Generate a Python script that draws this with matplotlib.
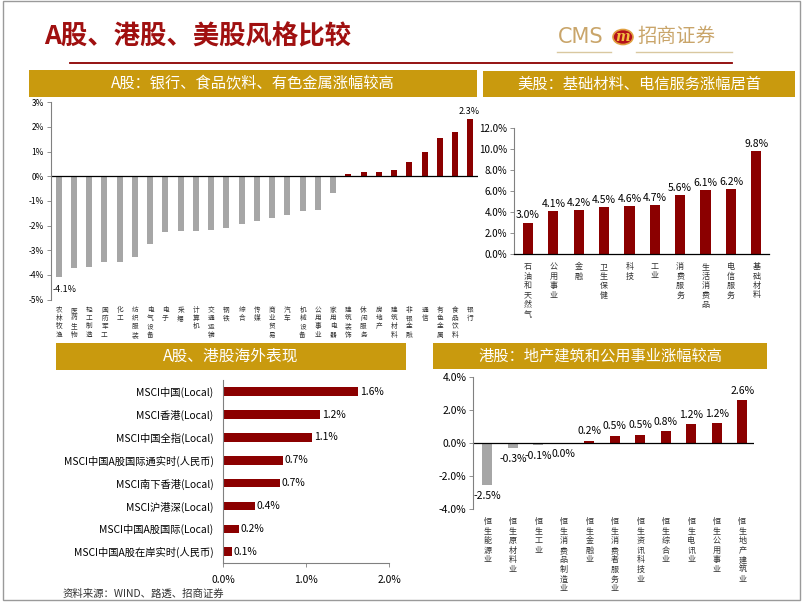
import matplotlib
matplotlib.use("Agg")
import matplotlib.pyplot as plt
from matplotlib.patches import Rectangle, Circle
from matplotlib.ticker import FuncFormatter, MultipleLocator
from matplotlib.transforms import blended_transform_factory

plt.rcParams['font.family'] = ['Noto Sans CJK SC', 'DejaVu Sans']
plt.rcParams['axes.unicode_minus'] = False

# ---------------- data ----------------
a_cats = ["农林牧渔", "医药生物", "轻工制造", "国防军工", "化工", "纺织服装", "电气设备",
          "电子", "采掘", "计算机", "交通运输", "钢铁", "综合", "传媒", "商业贸易", "汽车",
          "机械设备", "公用事业", "家用电器", "建筑装饰", "休闲服务", "房地产", "建筑材料",
          "非银金融", "通信", "有色金属", "食品饮料", "银行"]
a_vals = [-4.1, -3.74, -3.67, -3.46, -3.46, -3.26, -2.73, -2.26, -2.23, -2.21, -2.19,
          -2.10, -1.94, -1.82, -1.70, -1.59, -1.41, -1.37, -0.67, 0.11, 0.16, 0.17, 0.24,
          0.57, 0.98, 1.57, 1.78, 2.33]

us_cats = ["石油和天然气", "公用事业", "金融", "卫生保健", "科技", "工业", "消费服务",
           "生活消费品", "电信服务", "基础材料"]
us_vals = [3.0, 4.1, 4.2, 4.5, 4.6, 4.7, 5.6, 6.1, 6.2, 9.8]

msci_cats = ["MSCI中国(Local)", "MSCI香港(Local)", "MSCI中国全指(Local)",
             "MSCI中国A股国际通实时(人民币)", "MSCI南下香港(Local)", "MSCI沪港深(Local)",
             "MSCI中国A股国际(Local)", "MSCI中国A股在岸实时(人民币)"]
msci_vals = [1.63, 1.17, 1.07, 0.72, 0.68, 0.38, 0.19, 0.10]
msci_labels = ["1.6%", "1.2%", "1.1%", "0.7%", "0.7%", "0.4%", "0.2%", "0.1%"]

hk_cats = ["恒生能源业", "恒生原材料业", "恒生工业", "恒生消费品制造业", "恒生金融业",
           "恒生消费者服务业", "恒生资讯科技业", "恒生综合业", "恒生电讯业", "恒生公用事业",
           "恒生地产建筑业"]
hk_vals = [-2.55, -0.33, -0.10, 0.0, 0.14, 0.43, 0.49, 0.73, 1.15, 1.21, 2.59]
hk_labels = ["-2.5%", "-0.3%", "-0.1%", "0.0%", "0.2%", "0.5%", "0.5%", "0.8%", "1.2%",
             "1.2%", "2.6%"]

# ---------------- style ----------------
RED = "#8B0000"
GRAY = "#A6A6A6"
GOLD = "#C99A0E"
TITLE_RED = "#A01010"
TAN = "#C9A56A"
W, H = 802, 602

fig = plt.figure(figsize=(W / 100, H / 100), dpi=100)


def box(x0, y0, x1, y1):
    return [x0 / W, 1 - y1 / H, (x1 - x0) / W, (y1 - y0) / H]


def fx(x):
    return x / W


def fy(y):
    return 1 - y / H


def vlabel(ax, i, label, y_px, pitch_px, fs):
    """Draw a category label as a vertical column of characters below the axis."""
    tr = blended_transform_factory(ax.transData, fig.transFigure)
    for k, ch in enumerate(label):
        ax.text(i, fy(y_px + pitch_px * k), ch, transform=tr, fontsize=fs, ha="center",
                va="top", color="#333333")


# frame
fig.patches.append(Rectangle((fx(3), fy(600)), fx(797), fy(1) - fy(600),
                             transform=fig.transFigure, fill=False, edgecolor="#9A9A9A",
                             lw=1.0))

# main title
fig.text(fx(44), fy(37), "A股、港股、美股风格比较", color=TITLE_RED, fontsize=19,
         fontweight="black", va="center", ha="left")
# logo
fig.text(fx(558), fy(37), "CMS", color=TAN, fontsize=15, va="center", ha="left",
         family=["DejaVu Sans"])
fig.patches.append(Circle((fx(623), fy(37)), 10 / W, transform=fig.transFigure,
                          facecolor="#B5121B", edgecolor="#E0A040", lw=1.2))
fig.text(fx(623), fy(37), "m", color="#F4C040", fontsize=10, fontweight="bold",
         fontstyle="italic", va="center", ha="center", family=["DejaVu Serif"])
fig.text(fx(637), fy(37), "招商证券", color=TAN, fontsize=14, va="center", ha="left")
fig.lines.append(plt.Line2D([fx(557), fx(611)], [fy(52), fy(52)], transform=fig.transFigure,
                            color="#D9C8A0", lw=1.0))
fig.lines.append(plt.Line2D([fx(636), fx(732)], [fy(52), fy(52)], transform=fig.transFigure,
                            color="#D9C8A0", lw=1.0))
# red rule
fig.lines.append(plt.Line2D([fx(70), fx(732)], [fy(63), fy(63)], transform=fig.transFigure,
                            color=RED, lw=1.3))


def title_bar(x0, y0, x1, y1, text, fs):
    fig.patches.append(Rectangle((fx(x0), fy(y1)), (x1 - x0) / W, (y1 - y0) / H,
                                 transform=fig.transFigure, facecolor=GOLD, edgecolor="none"))
    fig.text((fx(x0) + fx(x1)) / 2, (fy(y0) + fy(y1)) / 2, text, color="white", fontsize=fs,
             ha="center", va="center", fontweight="medium")


title_bar(29, 70, 477, 97, "A股：银行、食品饮料、有色金属涨幅较高", 11)
title_bar(483, 71, 795, 97, "美股：基础材料、电信服务涨幅居首", 11)
title_bar(56, 343, 406, 370, "A股、港股海外表现", 11.3)
title_bar(433, 343, 767, 369, "港股：地产建筑和公用事业涨幅较高", 11)

pct0 = FuncFormatter(lambda v, p: f"{v:.0f}%")
pct1 = FuncFormatter(lambda v, p: f"{v:.1f}%")

# ---------------- A-share chart ----------------
ax1 = fig.add_axes(box(51, 102.3, 478, 299.5))
x = range(len(a_cats))
cols = [GRAY if v < 0 else RED for v in a_vals]
ax1.bar(x, a_vals, width=0.4, color=cols)
ax1.axhline(0, color="black", lw=0.9)
ax1.set_xlim(-0.5, len(a_cats) - 0.5)
ax1.set_ylim(-5, 3)
ax1.yaxis.set_major_locator(MultipleLocator(1))
ax1.yaxis.set_major_formatter(pct0)
for s in ["top", "right", "bottom"]:
    ax1.spines[s].set_visible(False)
ax1.spines["left"].set_color("#808080")
ax1.spines["left"].set_linewidth(0.8)
ax1.tick_params(axis="y", labelsize=6, length=3, width=0.6, color="#808080", pad=2)
ax1.set_xticks([])
for i, c in enumerate(a_cats):
    vlabel(ax1, i, c, 306, 8.2, 4.8)
ax1.text(0.4, a_vals[0] - 0.3, f"{a_vals[0]:.1f}%", fontsize=6.5, ha="center", va="top")
ax1.text(len(a_cats) - 1.1, a_vals[-1] + 0.12, f"{a_vals[-1]:.1f}%", fontsize=6.5,
         ha="center", va="bottom")
ax1.patch.set_alpha(0)

# ---------------- US chart ----------------
ax2 = fig.add_axes(box(514, 128.3, 769, 254))
x = range(len(us_cats))
ax2.bar(x, us_vals, width=0.4, color=RED)
ax2.set_xlim(-0.55, len(us_cats) - 0.5)
ax2.set_ylim(0, 12)
ax2.yaxis.set_major_locator(MultipleLocator(2))
ax2.yaxis.set_major_formatter(pct1)
for s in ["top", "right"]:
    ax2.spines[s].set_visible(False)
ax2.spines["left"].set_color("#808080")
ax2.spines["left"].set_linewidth(0.8)
ax2.spines["bottom"].set_color("black")
ax2.spines["bottom"].set_linewidth(0.9)
ax2.tick_params(axis="y", labelsize=7, length=3, width=0.6, color="#808080", pad=2)
ax2.set_xticks([])
for i, (c, v) in enumerate(zip(us_cats, us_vals)):
    ax2.text(i, v + 0.2, f"{v:.1f}%", fontsize=7.5, ha="center", va="bottom")
    vlabel(ax2, i, c, 262, 9.5, 5.8)
ax2.patch.set_alpha(0)

# ---------------- MSCI chart ----------------
ax3 = fig.add_axes(box(223.3, 380, 389, 562.7))
y = range(len(msci_cats))
ax3.barh(y, msci_vals, height=0.38, color=RED)
ax3.set_ylim(len(msci_cats) - 0.52, -0.51)
ax3.set_xlim(0, 2)
ax3.xaxis.set_major_locator(MultipleLocator(1))
ax3.xaxis.set_major_formatter(pct1)
ax3.set_yticks(list(y))
ax3.set_yticklabels(msci_cats, fontsize=7.4)
for s in ["top", "right"]:
    ax3.spines[s].set_visible(False)
ax3.spines["left"].set_color("#808080")
ax3.spines["bottom"].set_color("#808080")
ax3.spines["left"].set_linewidth(0.8)
ax3.spines["bottom"].set_linewidth(0.8)
ax3.tick_params(axis="y", length=0, pad=7)
ax3.tick_params(axis="x", labelsize=7.4, length=3, width=0.6, color="#808080", pad=6)
for i, (v, lab) in enumerate(zip(msci_vals, msci_labels)):
    ax3.text(v + 0.02, i, lab, fontsize=7.4, ha="left", va="center")
ax3.patch.set_alpha(0)

# ---------------- HK chart ----------------
ax4 = fig.add_axes(box(473.3, 376.7, 754, 509))
x = range(len(hk_cats))
cols = [GRAY if v < 0 else RED for v in hk_vals]
ax4.bar(x, hk_vals, width=0.4, color=cols)
ax4.axhline(0, color="black", lw=0.9)
ax4.set_xlim(-0.55, len(hk_cats) - 0.54)
ax4.set_ylim(-4, 4)
ax4.yaxis.set_major_locator(MultipleLocator(2))
ax4.yaxis.set_major_formatter(pct1)
for s in ["top", "right", "bottom"]:
    ax4.spines[s].set_visible(False)
ax4.spines["left"].set_color("#808080")
ax4.spines["left"].set_linewidth(0.8)
ax4.tick_params(axis="y", labelsize=7.5, length=3, width=0.6, color="#808080", pad=2)
ax4.set_xticks([])
for i, (c, v, lab) in enumerate(zip(hk_cats, hk_vals, hk_labels)):
    if v <= 0:
        ax4.text(i, min(v, 0) - 0.67, lab, fontsize=7.5, ha="center", va="center")
    else:
        ax4.text(i, v + 0.56, lab, fontsize=7.5, ha="center", va="center")
    vlabel(ax4, i, c, 517, 9.6, 5.8)
ax4.patch.set_alpha(0)

# source
fig.text(fx(63), fy(594), "资料来源：WIND、路透、招商证券", fontsize=7.5, color="#333333",
         va="center", ha="left")

fig.savefig("out.png", dpi=100)
